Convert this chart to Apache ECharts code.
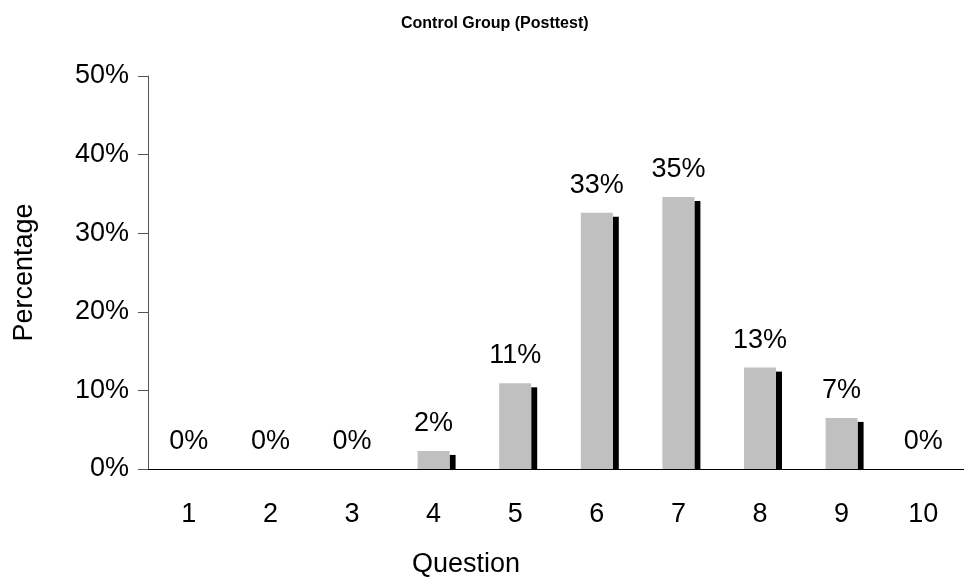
<!DOCTYPE html>
<html>
<head>
<meta charset="utf-8">
<title>Control Group (Posttest)</title>
<script src="https://cdn.jsdelivr.net/npm/echarts@6/dist/echarts.min.js"></script>
<style>
    html, body { margin: 0; padding: 0; background: #fff; }
    #chart { width: 964px; height: 583px; }
</style>
</head>
<body>
<div id="chart"></div>
<script>
    // question numbers on the x axis
    const questions = ['1', '2', '3', '4', '5', '6', '7', '8', '9', '10'];
    // share of answers per question, in percent
    const percentages = [0, 0, 0, 2.3, 10.9, 32.6, 34.6, 12.9, 6.5, 0];
    // y axis range, in percent
    const yTicks = [0, 10, 20, 30, 40, 50];

    const font = 'Liberation Sans, Arial, sans-serif';
    const chart = echarts.init(document.getElementById('chart'), null, {renderer: 'canvas'});

    // black strip on the right of every bar, a few px lower than the bar top
    function renderShadow(params, api) {
        const v = api.value(1);
        if (!v) return null;
        const top = api.coord([api.value(0), v]);
        const base = api.coord([api.value(0), 0]);
        const barW = 32;
        return {
            type: 'rect',
            shape: {
                x: top[0] + barW / 2,
                y: top[1] + 4,
                width: 6,
                height: base[1] - top[1] - 4
            },
            style: {fill: '#000'}
        };
    }

    const option = {
        animation: false,
        backgroundColor: '#fff',
        title: {
            text: 'Control Group (Posttest)',
            left: 396,
            top: 11,
            textStyle: {fontFamily: font, fontSize: 16, fontWeight: 'bold', color: '#000'}
        },
        grid: {left: 148, right: -9, top: 76, bottom: 113},
        xAxis: {
            type: 'category',
            data: questions,
            name: 'Question',
            nameLocation: 'middle',
            nameGap: 82,
            // shifted left, the title sits under the middle of the whole chart
            nameTextStyle: {fontFamily: font, fontSize: 27, color: '#000', padding: [0, 180, 0, 0]},
            axisLine: {lineStyle: {color: '#000', width: 1}},
            axisTick: {alignWithLabel: false, length: 10, lineStyle: {color: '#555'}},
            axisLabel: {fontFamily: font, fontSize: 27, color: '#000', margin: 32}
        },
        yAxis: {
            type: 'value',
            min: yTicks[0],
            max: yTicks[yTicks.length - 1],
            interval: 10,
            name: 'Percentage',
            nameLocation: 'middle',
            nameGap: 110,
            nameTextStyle: {fontFamily: font, fontSize: 27, color: '#000'},
            axisLine: {show: true, lineStyle: {color: '#555', width: 1}},
            axisTick: {show: true, length: 10, lineStyle: {color: '#555'}},
            splitLine: {show: false},
            axisLabel: {fontFamily: font, fontSize: 27, color: '#000', margin: 19,
                formatter: v => v + '%'}
        },
        series: [
            {
                type: 'custom',
                renderItem: renderShadow,
                data: percentages.map((v, i) => [i, v]),
                z: 1
            },
            {
                type: 'bar',
                data: percentages,
                barWidth: 32,
                barGap: '-100%',
                itemStyle: {color: '#c0c0c0'},
                z: 2,
                label: {
                    show: true,
                    position: 'top',
                    distance: 14,
                    fontFamily: font,
                    fontSize: 27,
                    color: '#000',
                    formatter: p => Math.round(p.value) + '%'
                }
            }
        ]
    };

    chart.setOption(option);
</script>
</body>
</html>
